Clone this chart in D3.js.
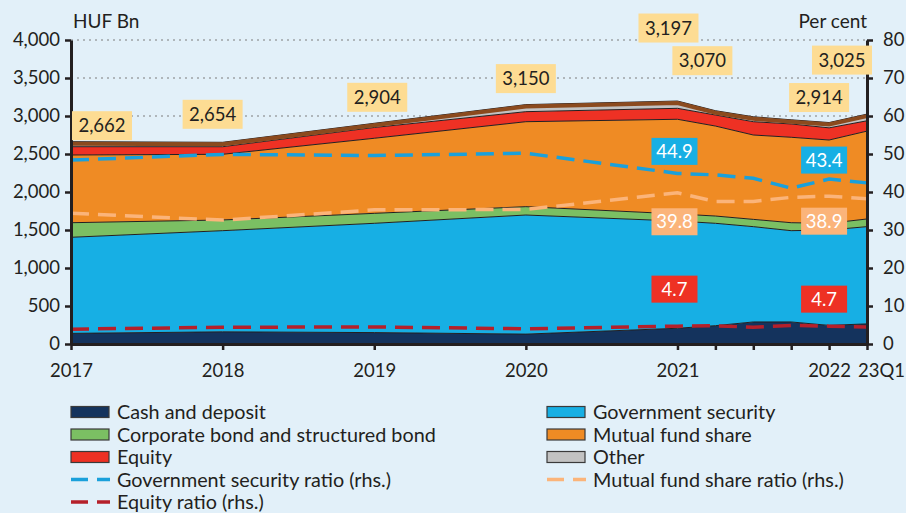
<!DOCTYPE html>
<html>
<head>
<meta charset="utf-8">
<script src="https://cdn.jsdelivr.net/npm/d3@7"></script>
<style>
  body { margin: 0; background: #e2f0f9; }
  text { font-family: Lato, "Open Sans", sans-serif; fill: #231f20; }
  .axis path, .axis line { stroke: #231f20; }
</style>
</head>
<body>
<div class="chart"></div>
<script>
// periods on a quarterly time axis (0 = 2017, 21 = 2023 Q1)
var periods = ["2017", "2018", "2019", "2020", "2021", "22Q1", "22Q2", "22Q3", "2022", "23Q1"];
var quarterIndex = [0, 4, 8, 12, 16, 17, 18, 19, 20, 21];

// HUF Bn
var cash = [140, 160, 150, 130, 207, 241, 290, 290, 245, 265];
var govSecurity = [1264, 1331, 1438, 1567, 1411, 1347, 1254, 1201, 1255, 1279];
var corpBond = [192, 141, 131, 110, 93, 96, 96, 105, 88, 101];
var mutualFund = [891, 864, 988, 1118, 1246, 1184, 1110, 1124, 1096, 1156];
var equity = [109, 100, 142, 132, 144, 145, 175, 175, 160, 136];
var other = [66, 58, 55, 93, 96, 57, 65, 55, 70, 88];
var totalLabels = [2662, 2654, 2904, 3150, 3197, 3070, null, null, 2914, 3025];

// per cent (rhs.)
var govRatio = [48.4, 49.9, 49.6, 50.2, 44.9, 44.5, 43.6, 41.0, 43.4, 42.4];
var fundRatio = [34.4, 32.6, 35.3, 35.4, 39.8, 37.5, 37.5, 38.6, 38.9, 38.2];
var equityRatio = [3.9, 4.4, 4.5, 4.0, 4.7, 4.8, 4.4, 4.9, 4.7, 4.5];
var ratioLabelIdx = [4, 8];

var leftTicks = [0, 500, 1000, 1500, 2000, 2500, 3000, 3500, 4000];
var rightTicks = [0, 10, 20, 30, 40, 50, 60, 70, 80];
var xTickLabels = { 0: "2017", 4: "2018", 8: "2019", 12: "2020", 16: "2021", 20: "2022", 21: "23Q1" };

var svgWidth = 906;
var svgHeight = 513;
var x0 = 71, x1 = 867, yTop = 40, yBottom = 344;

var svg = d3.select(".chart").append("svg")
  .attr("width", svgWidth)
  .attr("height", svgHeight);

var x = d3.scaleLinear().domain([0, 21]).range([x0, x1]);
var yL = d3.scaleLinear().domain([0, 4000]).range([yBottom, yTop]);
var yR = d3.scaleLinear().domain([0, 80]).range([yBottom, yTop]);

// gridlines
svg.append("g").selectAll("line").data(leftTicks.slice(1)).enter().append("line")
  .attr("x1", x0).attr("x2", x1)
  .attr("y1", function(d) { return yL(d); })
  .attr("y2", function(d) { return yL(d); })
  .attr("stroke", "#7d7d7d")
  .attr("stroke-width", 1)
  .attr("stroke-dasharray", "2,4");

// stacked areas
var keys = ["cash", "gov", "corp", "fund", "equity", "other"];
var colors = { cash: "#14335d", gov: "#17afe4", corp: "#7bbf63", fund: "#ef8b24", equity: "#ee3124", other: "#c2c2c2" };
var rows = periods.map(function(p, i) {
  return { q: quarterIndex[i], cash: cash[i], gov: govSecurity[i], corp: corpBond[i],
           fund: mutualFund[i], equity: equity[i], other: other[i] };
});
var series = d3.stack().keys(keys)(rows);

var area = d3.area()
  .x(function(d) { return x(d.data.q); })
  .y0(function(d) { return yL(d[0]); })
  .y1(function(d) { return yL(d[1]); });

var topLine = d3.line()
  .x(function(d) { return x(d.data.q); })
  .y(function(d) { return yL(d[1]); });

svg.append("g").selectAll("path").data(series).enter().append("path")
  .attr("d", area)
  .attr("fill", function(d) { return colors[d.key]; });

svg.append("g").selectAll("path").data(series).enter().append("path")
  .attr("d", topLine)
  .attr("fill", "none")
  .attr("stroke", "#231f20")
  .attr("stroke-width", 1);

// brown top edge of the stack
svg.append("path")
  .attr("d", topLine(series[series.length - 1]))
  .attr("transform", "translate(0,2)")
  .attr("fill", "none")
  .attr("stroke", "#8b4a1e")
  .attr("stroke-width", 4);

// ratio lines
function ratioLine(vals) {
  return d3.line()
    .x(function(d, i) { return x(quarterIndex[i]); })
    .y(function(d) { return yR(d); })(vals);
}
var ratioSeries = [
  { vals: govRatio, color: "#1aa0db" },
  { vals: fundRatio, color: "#fbb47a" },
  { vals: equityRatio, color: "#b5202a" }
];
svg.append("g").selectAll("path").data(ratioSeries).enter().append("path")
  .attr("d", function(d) { return ratioLine(d.vals); })
  .attr("fill", "none")
  .attr("stroke", function(d) { return d.color; })
  .attr("stroke-width", 3.5)
  .attr("stroke-dasharray", "18,9");

// axes
var leftAxis = d3.axisLeft(yL).tickValues(leftTicks).tickFormat(d3.format(","))
  .tickSize(6).tickSizeOuter(0).tickPadding(5);
var rightAxis = d3.axisRight(yR).tickValues(rightTicks)
  .tickSize(6).tickSizeOuter(0).tickPadding(10);
var bottomAxis = d3.axisBottom(x).tickValues(quarterIndex)
  .tickFormat(function(d) { return xTickLabels[d] || ""; })
  .tickSize(6).tickSizeOuter(0).tickPadding(14);

function styleAxis(g) {
  g.attr("class", "axis");
  g.select(".domain").attr("stroke-width", 3);
  g.selectAll(".tick line").attr("stroke-width", 2.5);
  g.selectAll("text").style("font-size", "18.5px").attr("fill", "#231f20");
}

svg.append("g").attr("transform", "translate(0," + yBottom + ")").call(bottomAxis).call(styleAxis)
  .selectAll("text").filter(function(d) { return d === 21; }).attr("dx", 14);
svg.append("g").attr("transform", "translate(" + x0 + ",0)").call(leftAxis).call(styleAxis);
svg.append("g").attr("transform", "translate(" + x1 + ",0)").call(rightAxis).call(styleAxis);

svg.append("text").attr("x", 73).attr("y", 28).style("font-size", "19px").text("HUF Bn");
svg.append("text").attr("x", 867).attr("y", 28).attr("text-anchor", "end").style("font-size", "19px").text("Per cent");

// value boxes
var totalOffsets = [[31, -16], [-10, -28], [3, -26], [0, -26], [-9, -73], [-13, -50], null, null, [-10, -25], [-25, -54]];
var fmt = d3.format(",");
function box(cx, cy, w, h, fill, txt, txtColor) {
  svg.append("rect").attr("x", cx - w / 2).attr("y", cy - h / 2)
    .attr("width", w).attr("height", h).attr("fill", fill);
  svg.append("text").attr("x", cx).attr("y", cy).attr("dy", "0.36em")
    .attr("text-anchor", "middle").style("font-size", "18.5px")
    .style("fill", txtColor).text(txt);
}
var totalTop = series[series.length - 1];
totalLabels.forEach(function(v, i) {
  if (v === null) return;
  var o = totalOffsets[i];
  box(x(quarterIndex[i]) + o[0], yL(totalTop[i][1]) + o[1], 60, 29, "#fddc93", fmt(v), "#231f20");
});

var ratioBoxes = [
  { vals: govRatio, fill: "#17afe4", offs: [[-3, -22], [-5, -19]] },
  { vals: fundRatio, fill: "#fbb47a", offs: [[-3, 29], [-5, 25]] },
  { vals: equityRatio, fill: "#ee3124", offs: [[-3, -37], [-5, -27]] }
];
ratioBoxes.forEach(function(r) {
  ratioLabelIdx.forEach(function(idx, j) {
    box(x(quarterIndex[idx]) + r.offs[j][0], yR(r.vals[idx]) + r.offs[j][1], 46, 27, r.fill,
        r.vals[idx].toFixed(1), "#ffffff");
  });
});

// legend
var legendItems = [
  { label: "Cash and deposit", type: "rect", color: colors.cash, col: 0, row: 0 },
  { label: "Corporate bond and structured bond", type: "rect", color: colors.corp, col: 0, row: 1 },
  { label: "Equity", type: "rect", color: colors.equity, col: 0, row: 2 },
  { label: "Government security ratio (rhs.)", type: "dash", color: "#1aa0db", col: 0, row: 3 },
  { label: "Equity ratio (rhs.)", type: "dash", color: "#b5202a", col: 0, row: 4 },
  { label: "Government security", type: "rect", color: colors.gov, col: 1, row: 0 },
  { label: "Mutual fund share", type: "rect", color: colors.fund, col: 1, row: 1 },
  { label: "Other", type: "rect", color: colors.other, col: 1, row: 2 },
  { label: "Mutual fund share ratio (rhs.)", type: "dash", color: "#fbb47a", col: 1, row: 3 }
];
var legendX = [71, 547], legendY0 = 412, legendStep = 22.5;
legendItems.forEach(function(it) {
  var lx = legendX[it.col], ly = legendY0 + it.row * legendStep;
  if (it.type === "rect") {
    svg.append("rect").attr("x", lx).attr("y", ly - 5.5).attr("width", 38).attr("height", 11)
      .attr("fill", it.color).attr("stroke", "#3a3a3a").attr("stroke-width", 1.2);
  } else {
    svg.append("line").attr("x1", lx).attr("x2", lx + 39).attr("y1", ly).attr("y2", ly)
      .attr("stroke", it.color).attr("stroke-width", 3.5).attr("stroke-dasharray", "17,9");
  }
  svg.append("text").attr("x", lx + 46).attr("y", ly).attr("dy", "0.36em")
    .style("font-size", "19.8px").text(it.label);
});
</script>
</body>
</html>
